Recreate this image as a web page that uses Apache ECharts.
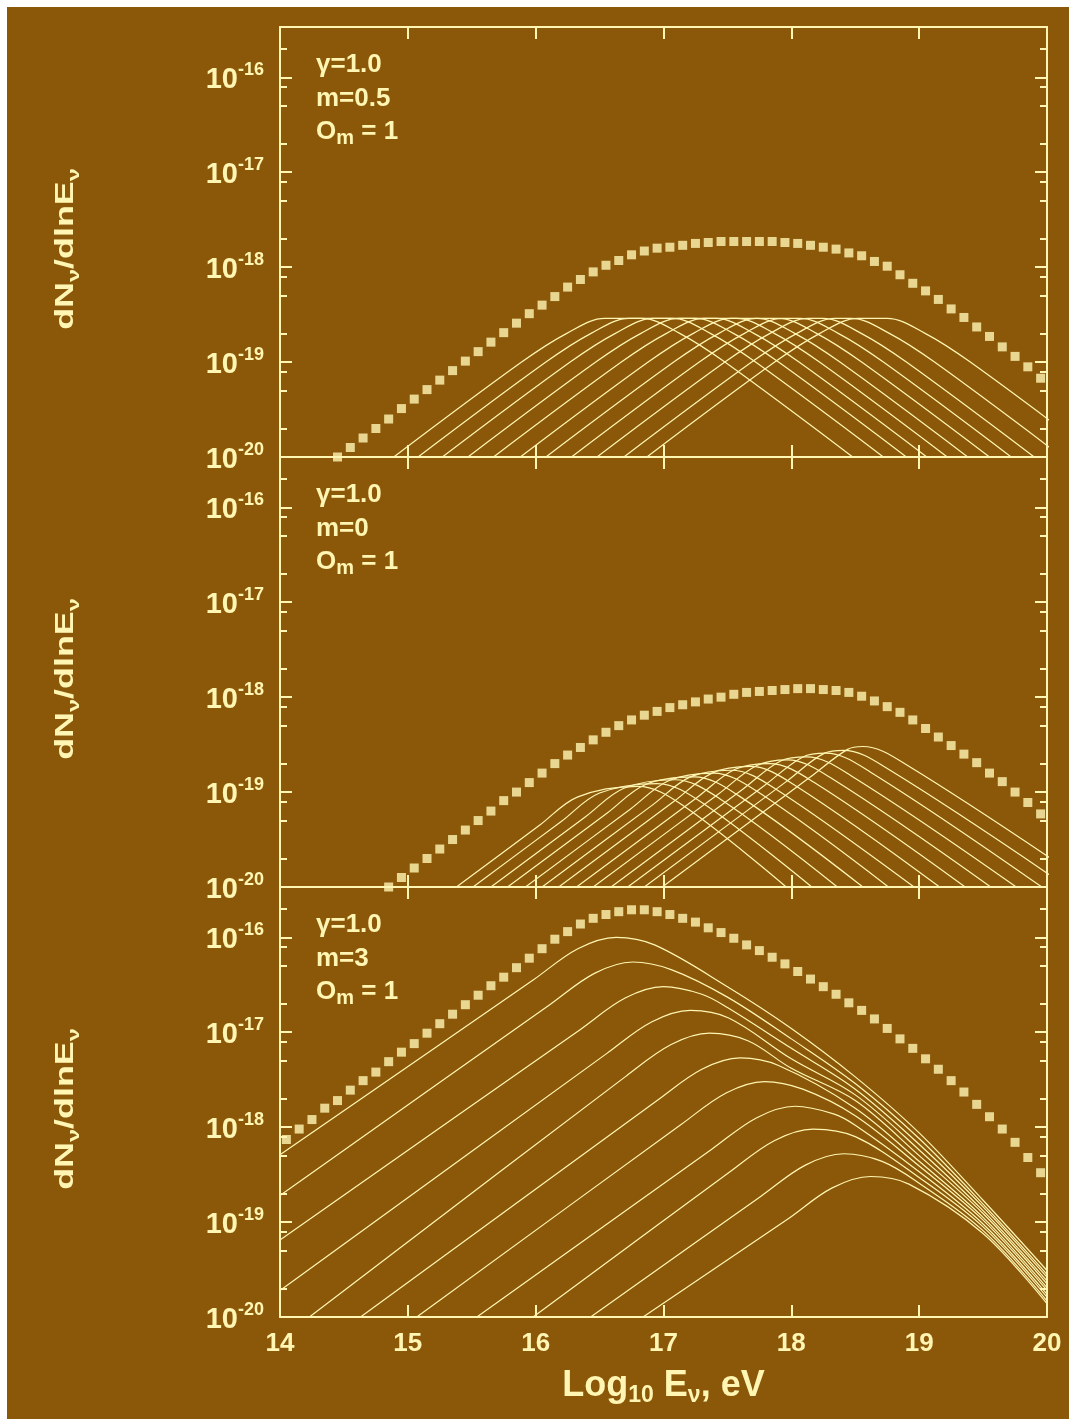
<!DOCTYPE html>
<html><head><meta charset="utf-8">
<script src="https://cdn.jsdelivr.net/npm/echarts@6/dist/echarts.min.js"></script>
<style>html,body{margin:0;padding:0;background:#8b5809;}#c{width:1069px;height:1419px;}</style>
</head><body><div id="c"></div>
<script>
// ---------- DATA (x = log10 E_nu [eV], y = log10 dN/dlnE) ----------
const xTickValues = [14, 15, 16, 17, 18, 19, 20];
const yDecades = [-20, -19, -18, -17, -16];
const minorMultipliers = [2, 5, 8];
const yTopLog = -15.47;

const panelLabels = [
  { gamma: 'γ=1.0', m: 'm=0.5', om: '1' },
  { gamma: 'γ=1.0', m: 'm=0', om: '1' },
  { gamma: 'γ=1.0', m: 'm=3', om: '1' }
];

const topTotalE = [14.45,14.55,14.65,14.75,14.85,14.95,15.05,15.15,15.25,15.35,15.45,15.55,15.65,15.75,15.85,15.95,16.05,16.15,16.25,16.35,16.45,16.55,16.65,16.75,16.85,16.95,17.05,17.15,17.25,17.35,17.45,17.55,17.65,17.75,17.85,17.95,18.05,18.15,18.25,18.35,18.45,18.55,18.65,18.75,18.85,18.95,19.05,19.15,19.25,19.35,19.45,19.55,19.65,19.75,19.85,19.95];
const topTotalLog = [-20.00,-19.90,-19.80,-19.70,-19.60,-19.49,-19.39,-19.29,-19.19,-19.09,-18.99,-18.89,-18.79,-18.69,-18.59,-18.49,-18.40,-18.31,-18.21,-18.13,-18.05,-17.98,-17.93,-17.87,-17.83,-17.80,-17.79,-17.77,-17.75,-17.74,-17.73,-17.73,-17.73,-17.73,-17.73,-17.74,-17.75,-17.77,-17.79,-17.81,-17.85,-17.88,-17.94,-17.99,-18.08,-18.17,-18.25,-18.34,-18.44,-18.53,-18.63,-18.73,-18.84,-18.94,-19.05,-19.17];

const midTotalE = [14.85,14.95,15.05,15.15,15.25,15.35,15.45,15.55,15.65,15.75,15.85,15.95,16.05,16.15,16.25,16.35,16.45,16.55,16.65,16.75,16.85,16.95,17.05,17.15,17.25,17.35,17.45,17.55,17.65,17.75,17.85,17.95,18.05,18.15,18.25,18.35,18.45,18.55,18.65,18.75,18.85,18.95,19.05,19.15,19.25,19.35,19.45,19.55,19.65,19.75,19.85,19.95];
const midTotalLog = [-20.00,-19.90,-19.80,-19.70,-19.60,-19.50,-19.40,-19.30,-19.20,-19.09,-19.00,-18.90,-18.80,-18.70,-18.61,-18.53,-18.45,-18.37,-18.30,-18.24,-18.19,-18.15,-18.11,-18.08,-18.05,-18.02,-18.00,-17.97,-17.95,-17.94,-17.93,-17.92,-17.91,-17.91,-17.92,-17.93,-17.95,-17.99,-18.04,-18.10,-18.16,-18.24,-18.33,-18.42,-18.51,-18.60,-18.69,-18.80,-18.89,-19.00,-19.11,-19.23];

const botTotalE = [14.05,14.15,14.25,14.35,14.45,14.55,14.65,14.75,14.85,14.95,15.05,15.15,15.25,15.35,15.45,15.55,15.65,15.75,15.85,15.95,16.05,16.15,16.25,16.35,16.45,16.55,16.65,16.75,16.85,16.95,17.05,17.15,17.25,17.35,17.45,17.55,17.65,17.75,17.85,17.95,18.05,18.15,18.25,18.35,18.45,18.55,18.65,18.75,18.85,18.95,19.05,19.15,19.25,19.35,19.45,19.55,19.65,19.75,19.85,19.95];
const botTotalLog = [-18.13,-18.02,-17.92,-17.80,-17.72,-17.61,-17.51,-17.42,-17.31,-17.21,-17.12,-17.01,-16.91,-16.81,-16.71,-16.61,-16.51,-16.42,-16.32,-16.22,-16.12,-16.02,-15.94,-15.86,-15.80,-15.76,-15.73,-15.71,-15.71,-15.73,-15.76,-15.80,-15.84,-15.90,-15.95,-16.01,-16.08,-16.14,-16.21,-16.28,-16.36,-16.44,-16.52,-16.60,-16.69,-16.77,-16.86,-16.96,-17.07,-17.17,-17.28,-17.39,-17.51,-17.63,-17.76,-17.89,-18.02,-18.16,-18.32,-18.48];

const topCurves = [
  [[14.89,-20],[15.89,-19],[16.24,-18.7],[16.54,-18.54],[16.83,-18.54],[17.13,-18.7],[17.48,-19],[18.48,-20]],
  [[15.08,-20],[16.08,-19],[16.43,-18.7],[16.73,-18.54],[17.07,-18.54],[17.37,-18.7],[17.72,-19],[18.72,-20]],
  [[15.27,-20],[16.27,-19],[16.62,-18.7],[16.92,-18.54],[17.25,-18.54],[17.55,-18.7],[17.90,-19],[18.90,-20]],
  [[15.47,-20],[16.47,-19],[16.82,-18.7],[17.12,-18.54],[17.41,-18.54],[17.71,-18.7],[18.06,-19],[19.06,-20]],
  [[15.67,-20],[16.67,-19],[17.02,-18.7],[17.32,-18.54],[17.57,-18.54],[17.87,-18.7],[18.22,-19],[19.22,-20]],
  [[15.88,-20],[16.88,-19],[17.23,-18.7],[17.53,-18.54],[17.73,-18.54],[18.03,-18.7],[18.38,-19],[19.38,-20]],
  [[16.08,-20],[17.08,-19],[17.43,-18.7],[17.73,-18.54],[17.90,-18.54],[18.20,-18.7],[18.55,-19],[19.55,-20]],
  [[16.28,-20],[17.28,-19],[17.63,-18.7],[17.93,-18.54],[18.07,-18.54],[18.37,-18.7],[18.72,-19],[19.72,-20]],
  [[16.48,-20],[17.48,-19],[17.83,-18.7],[18.13,-18.54],[18.25,-18.54],[18.55,-18.7],[18.90,-19],[19.90,-20]],
  [[16.69,-20],[17.69,-19],[18.04,-18.7],[18.34,-18.54],[18.47,-18.54],[18.77,-18.7],[19.12,-19],[20.12,-20]],
  [[16.87,-20],[17.87,-19],[18.22,-18.7],[18.52,-18.54],[18.75,-18.54],[19.05,-18.7],[19.40,-19],[20.40,-20]]
];

const midCurves = [
  [[15.38,-20],[16.03,-19.35],[16.33,-19.05],[16.80,-18.94],[17.15,-19.14],[17.96,-20]],
  [[15.51,-20],[16.20,-19.31],[16.50,-19.01],[16.95,-18.91],[17.30,-19.11],[18.16,-20]],
  [[15.65,-20],[16.39,-19.26],[16.69,-18.96],[17.09,-18.87],[17.44,-19.07],[18.36,-20]],
  [[15.78,-20],[16.56,-19.22],[16.86,-18.92],[17.24,-18.84],[17.59,-19.04],[18.56,-20]],
  [[15.92,-20],[16.74,-19.18],[17.04,-18.88],[17.39,-18.80],[17.74,-19.00],[18.76,-20]],
  [[16.05,-20],[16.91,-19.14],[17.21,-18.84],[17.53,-18.77],[17.88,-18.97],[18.96,-20]],
  [[16.18,-20],[17.08,-19.10],[17.38,-18.80],[17.68,-18.73],[18.03,-18.93],[19.16,-20]],
  [[16.32,-20],[17.26,-19.06],[17.56,-18.76],[17.83,-18.70],[18.18,-18.90],[19.36,-20]],
  [[16.45,-20],[17.43,-19.02],[17.73,-18.72],[17.97,-18.66],[18.32,-18.86],[19.56,-20]],
  [[16.59,-20],[17.62,-18.97],[17.92,-18.67],[18.12,-18.63],[18.47,-18.83],[19.76,-20]],
  [[16.72,-20],[17.79,-18.93],[18.09,-18.63],[18.27,-18.59],[18.62,-18.79],[19.96,-20]],
  [[16.85,-20],[17.96,-18.89],[18.26,-18.59],[18.41,-18.56],[18.76,-18.76],[20.16,-20]],
  [[16.99,-20],[18.14,-18.85],[18.44,-18.55],[18.56,-18.52],[18.91,-18.72],[20.36,-20]]
];

const botCurves = [
  [[14,-18.29],[15.98,-16.45],[16.33,-16.12],[16.63,-16.00],[16.93,-16.08],[17.5,-16.52],[18.0,-16.96],[18.5,-17.47],[19.0,-18.06],[19.5,-18.77],[20,-19.51]],
  [[14,-18.72],[16.11,-16.71],[16.46,-16.38],[16.76,-16.26],[17.06,-16.34],[17.5,-16.63],[18.0,-17.07],[18.5,-17.54],[19.0,-18.12],[19.5,-18.81],[20,-19.55]],
  [[14,-19.19],[16.35,-16.97],[16.70,-16.64],[17.00,-16.52],[17.30,-16.60],[17.5,-16.74],[18.0,-17.17],[18.5,-17.60],[19.0,-18.18],[19.5,-18.84],[20,-19.58]],
  [[14,-19.72],[16.56,-17.22],[16.91,-16.89],[17.21,-16.77],[17.51,-16.85],[18.0,-17.28],[18.5,-17.66],[19.0,-18.24],[19.5,-18.88],[20,-19.62]],
  [[14.23,-20],[16.71,-17.46],[17.06,-17.13],[17.36,-17.01],[17.66,-17.09],[18.0,-17.38],[18.5,-17.72],[19.0,-18.30],[19.5,-18.91],[20,-19.65]],
  [[14.63,-20],[16.95,-17.72],[17.30,-17.39],[17.60,-17.27],[17.90,-17.35],[18.5,-17.80],[19.0,-18.36],[19.5,-18.95],[20,-19.69]],
  [[15.07,-20],[17.14,-17.97],[17.49,-17.64],[17.79,-17.52],[18.09,-17.60],[18.5,-17.88],[19.0,-18.41],[19.5,-18.98],[20,-19.72]],
  [[15.54,-20],[17.38,-18.23],[17.73,-17.90],[18.03,-17.78],[18.33,-17.86],[18.5,-17.98],[19.0,-18.47],[19.5,-19.02],[20,-19.76]],
  [[15.98,-20],[17.52,-18.47],[17.87,-18.14],[18.17,-18.02],[18.5,-18.10],[19.0,-18.53],[19.5,-19.05],[20,-19.79]],
  [[16.43,-20],[17.76,-18.73],[18.11,-18.40],[18.41,-18.28],[18.71,-18.36],[19.0,-18.59],[19.5,-19.09],[20,-19.83]],
  [[16.84,-20],[17.97,-18.97],[18.32,-18.64],[18.62,-18.52],[18.92,-18.60],[19.5,-19.12],[20,-19.86]]
];

// ---------- STYLE / LAYOUT ----------
const BG = '#8b5809';
const FG = '#fff6b4';
const FONT = '"Liberation Sans", Arial, Helvetica, sans-serif';
const gridTops = [27, 457, 887];
const gridH = 430;
const gridLeft = 280, gridRight = 22;

const panels = [
  { totalE: topTotalE, totalLog: topTotalLog, curves: topCurves },
  { totalE: midTotalE, totalLog: midTotalLog, curves: midCurves },
  { totalE: botTotalE, totalLog: botTotalLog, curves: botCurves }
];

const minorTicks = [];
yDecades.forEach(d => minorMultipliers.forEach(m => {
  const v = d + Math.log10(m);
  if (v <= yTopLog) minorTicks.push(v);
}));

const grids = [], xAxes = [], yAxes = [], series = [], graphics = [];

gridTops.forEach((top, i) => {
  grids.push({ left: gridLeft, right: gridRight, top: top, height: gridH, show: false });
  ['bottom', 'top'].forEach(pos => {
    xAxes.push({
      type: 'value', gridIndex: i, position: pos, min: 14, max: 20, interval: 1,
      axisLine: { show: true, onZero: false, lineStyle: { color: FG, width: 2 } },
      axisTick: { show: true, inside: true, length: 12, lineStyle: { color: FG, width: 2 } },
      splitLine: { show: false },
      axisLabel: (i === 2 && pos === 'bottom') ? {
        show: true, color: FG, fontSize: 26, fontWeight: 'bold', fontFamily: FONT, margin: 14,
        formatter: v => String(v)
      } : { show: false }
    });
  });
  ['left', 'right'].forEach(pos => {
    yAxes.push({
      type: 'value', gridIndex: i, position: pos, min: -20, max: yTopLog,
      axisLine: { show: true, onZero: false, lineStyle: { color: FG, width: 2 } },
      axisTick: { show: true, inside: true, length: 12, customValues: yDecades, lineStyle: { color: FG, width: 2 } },
      splitLine: { show: false },
      axisLabel: pos === 'left' ? {
        show: true, customValues: yDecades, margin: 16, padding: [6, 0, 0, 0],
        formatter: v => '{b|10}{s|' + Math.round(v) + '}',
        rich: {
          b: { color: FG, fontSize: 29, fontWeight: 'bold', fontFamily: FONT, lineHeight: 38 },
          s: { color: FG, fontSize: 18, fontWeight: 'bold', fontFamily: FONT, lineHeight: 18, verticalAlign: 'top' }
        }
      } : { show: false }
    });
    yAxes.push({
      type: 'value', gridIndex: i, position: pos, min: -20, max: yTopLog,
      axisLine: { show: false },
      axisTick: { show: true, inside: true, length: 7, customValues: minorTicks, lineStyle: { color: FG, width: 2 } },
      splitLine: { show: false },
      axisLabel: { show: false }
    });
  });

  const p = panels[i];
  p.curves.forEach(c => {
    series.push({
      type: 'line', xAxisIndex: 2 * i, yAxisIndex: 4 * i, data: c,
      showSymbol: false, symbol: 'none', smooth: 0.35, clip: true, silent: true,
      lineStyle: { color: FG, width: 1.2 }, z: 2
    });
  });
  series.push({
    type: 'scatter', xAxisIndex: 2 * i, yAxisIndex: 4 * i,
    data: p.totalE.map((e, k) => [e, p.totalLog[k]]),
    symbol: 'rect', symbolSize: 9, itemStyle: { color: FG }, silent: true, z: 3
  });

  // panel annotation
  const L = panelLabels[i];
  const txt = { fill: FG, fontSize: 26, fontWeight: 'bold', fontFamily: FONT };
  graphics.push({ type: 'text', x: 316, y: top + 25, style: Object.assign({ text: L.gamma, verticalAlign: 'top' }, txt) });
  graphics.push({ type: 'text', x: 316, y: top + 59, style: Object.assign({ text: L.m, verticalAlign: 'top' }, txt) });
  graphics.push({ type: 'text', x: 316, y: top + 88, style: {
    text: '{a|O}{s|m}{a| = ' + L.om + '}', verticalAlign: 'top',
    rich: {
      a: { fill: FG, fontSize: 26, fontWeight: 'bold', fontFamily: FONT, lineHeight: 33 },
      s: { fill: FG, fontSize: 20, fontWeight: 'bold', fontFamily: FONT, lineHeight: 20, verticalAlign: 'bottom' }
    }
  } });

  // y-axis title (rotated)
  graphics.push({
    type: 'text', x: 66, y: top + gridH / 2 + 7, rotation: Math.PI / 2, scaleX: 1.38,
    style: {
      text: '{a|dN}{s|ν}{a|/dlnE}{s|ν}', align: 'center', verticalAlign: 'middle',
      rich: {
        a: { fill: FG, fontSize: 26, fontWeight: 'bold', fontFamily: FONT, lineHeight: 34 },
        s: { fill: FG, fontSize: 17, fontWeight: 'bold', fontFamily: FONT, lineHeight: 17, verticalAlign: 'bottom' }
      }
    }
  });
});

// x-axis title
graphics.push({
  type: 'text', x: (gridLeft + 1069 - gridRight) / 2, y: 1386,
  style: {
    text: '{a|Log}{s|10}{a| E}{s|ν}{a|, eV}', align: 'center', verticalAlign: 'middle',
    rich: {
      a: { fill: FG, fontSize: 36, fontWeight: 'bold', fontFamily: FONT, lineHeight: 42 },
      s: { fill: FG, fontSize: 23, fontWeight: 'bold', fontFamily: FONT, lineHeight: 22, verticalAlign: 'bottom' }
    }
  }
});
// white page border (left / top)
graphics.push({ type: 'rect', shape: { x: 0, y: 0, width: 7, height: 1419 }, style: { fill: '#ffffff' } });
graphics.push({ type: 'rect', shape: { x: 0, y: 0, width: 1069, height: 7 }, style: { fill: '#ffffff' } });

const chart = echarts.init(document.getElementById('c'), null, { renderer: 'canvas' });
chart.setOption({
  backgroundColor: BG,
  animation: false,
  grid: grids,
  xAxis: xAxes,
  yAxis: yAxes,
  series: series,
  graphic: graphics
});
</script></body></html>
